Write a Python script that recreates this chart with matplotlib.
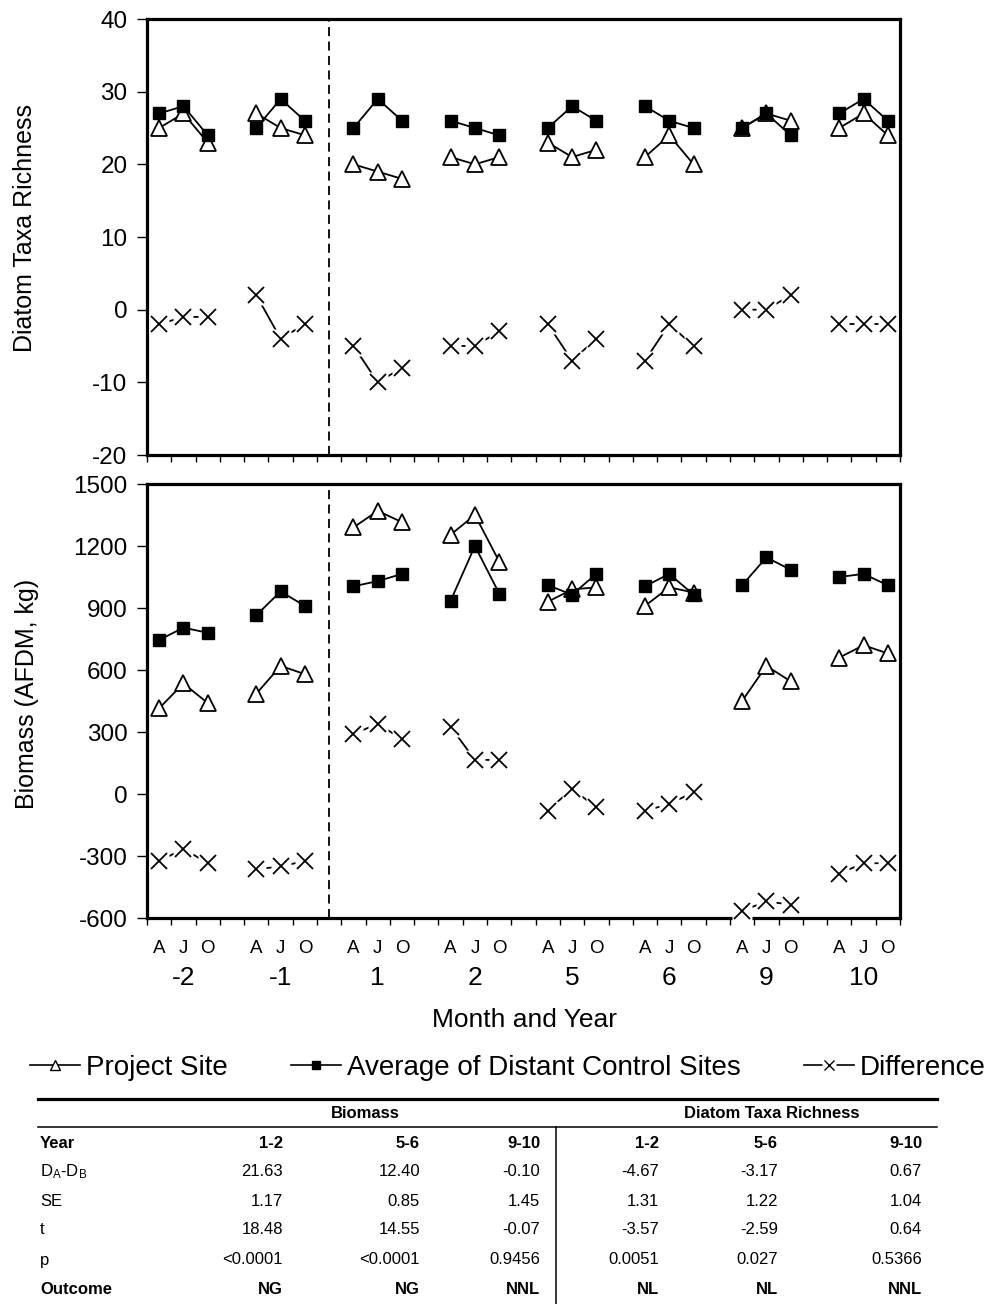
import numpy as np
import matplotlib.pyplot as plt
from matplotlib.lines import Line2D
from matplotlib.legend_handler import HandlerTuple

plt.rcParams['font.family'] = ['Liberation Sans', 'DejaVu Sans']
plt.rcParams['axes.unicode_minus'] = False
plt.rcParams['mathtext.fontset'] = 'custom'
plt.rcParams['mathtext.rm'] = 'Liberation Sans'
plt.rcParams['mathtext.it'] = 'Liberation Sans:italic'
plt.rcParams['mathtext.bf'] = 'Liberation Sans:bold'

# --- data -------------------------------------------------------------
years = ['-2', '-1', '1', '2', '5', '6', '9', '10']
months = ['A', 'J', 'O']

# diatom taxa richness (top panel)
proj_div = [25, 27, 23, 27, 25, 24, 20, 19, 18, 21, 20, 21,
            23, 21, 22, 21, 24, 20, 25, 27, 26, 25, 27, 24]
ctrl_div = [27, 28, 24, 25, 29, 26, 25, 29, 26, 26, 25, 24,
            25, 28, 26, 28, 26, 25, 25, 27, 24, 27, 29, 26]
diff_div = [-2, -1, -1, 2, -4, -2, -5, -10, -8, -5, -5, -3,
            -2, -7, -4, -7, -2, -5, 0, 0, 2, -2, -2, -2]

# biomass (bottom panel)
proj_bio = [415, 535, 440, 485, 620, 580, 1290, 1370, 1315, 1255, 1350, 1125,
            930, 990, 1000, 910, 1000, 975, 450, 620, 545, 660, 720, 680]
ctrl_bio = [745, 805, 780, 865, 980, 910, 1005, 1030, 1065, 935, 1200, 970,
            1010, 965, 1065, 1005, 1065, 965, 1010, 1145, 1085, 1050, 1065, 1010]
diff_bio = [-325, -265, -335, -365, -350, -325, 290, 340, 265, 325, 165, 165,
            -80, 25, -65, -80, -50, 10, -565, -520, -535, -385, -335, -335]

# table
stat_rows = ['Year', 'D$_\\mathrm{A}$-D$_\\mathrm{B}$', 'SE', 't', 'p', 'Outcome']
year_cols = ['1-2', '5-6', '9-10']
bio_stats = [['21.63', '12.40', '-0.10'],
             ['1.17', '0.85', '1.45'],
             ['18.48', '14.55', '-0.07'],
             ['<0.0001', '<0.0001', '0.9456'],
             ['NG', 'NG', 'NNL']]
div_stats = [['-4.67', '-3.17', '0.67'],
             ['1.31', '1.22', '1.04'],
             ['-3.57', '-2.59', '0.64'],
             ['0.0051', '0.027', '0.5366'],
             ['NL', 'NL', 'NNL']]

# --- figure -----------------------------------------------------------
W, H = 989, 1304
fig = plt.figure(figsize=(W / 100, H / 100), dpi=100)


def px_box(l, t, r, b):
    return [l / W, 1 - b / H, (r - l) / W, (b - t) / H]


ax1 = fig.add_axes(px_box(147, 19, 900, 455))
ax2 = fig.add_axes(px_box(147, 484, 900, 918))

ncat = 4 * len(years) - 1


def draw_panel(ax, proj, ctrl, diff):
    for g in range(len(years)):
        xs = [4 * g + m for m in range(len(months))]
        sl = slice(3 * g, 3 * g + 3)
        ax.plot(xs, proj[sl], '-', color='black', lw=1.3, marker='^', ms=11.5,
                mfc='white', mec='black', mew=1.3, zorder=4)
        ax.plot(xs, ctrl[sl], '-', color='black', lw=1.3, marker='s', ms=8.5,
                mfc='black', mec='black', zorder=5)
        ax.plot(xs, diff[sl], '-', color='black', lw=1.3, zorder=3)
        ax.plot(xs, diff[sl], ls='none', marker='s', ms=14, mfc='white',
                mec='none', zorder=3.1, clip_on=False)
        ax.plot(xs, diff[sl], ls='none', marker='x', ms=11.5, mec='black',
                mew=1.3, zorder=3.2, clip_on=False)
    # treatment start
    ax.axvline(7, color='black', ls=(0, (5, 3)), lw=1.3, zorder=2)
    ax.set_xlim(-0.5, ncat - 0.5)
    ax.set_xticks(np.arange(-0.5, ncat, 1))
    ax.set_xticklabels([])
    for s in ax.spines.values():
        s.set_linewidth(2.3)
    ax.tick_params(axis='x', which='major', direction='out', length=5, width=1)
    ax.tick_params(axis='y', direction='out', length=7, width=1,
                   labelsize=17.5, pad=7)


draw_panel(ax1, proj_div, ctrl_div, diff_div)
ax1.set_ylim(-20, 40)
ax1.set_yticks(range(-20, 41, 10))

draw_panel(ax2, proj_bio, ctrl_bio, diff_bio)
ax2.set_ylim(-600, 1500)
ax2.set_yticks(range(-600, 1501, 300))

# month labels under each point, year under the group
xcat = [4 * g + m for g in range(len(years)) for m in range(len(months))]
ax2.set_xticks(xcat, minor=True)
ax2.set_xticklabels(months * len(years), minor=True, fontsize=13.5)
ax2.tick_params(axis='x', which='minor', length=0, pad=16)
for g, yr in enumerate(years):
    ax2.text(4 * g + 1, -(978 - 918) / (918 - 484), yr, fontsize=19,
             ha='center', va='center', transform=ax2.get_xaxis_transform())

fig.text(525 / W, 1 - 1020 / H, 'Month and Year', fontsize=19,
         ha='center', va='center')
fig.text(25 / W, 1 - 228 / H, 'Diatom Taxa Richness', fontsize=18,
         rotation=90, ha='center', va='center')
fig.text(27 / W, 1 - 694 / H, 'Biomass (AFDM, kg)', fontsize=18,
         rotation=90, ha='center', va='center')

# legend
h_proj = Line2D([], [], color='black', lw=1.2, marker='^', ms=7,
                mfc='white', mec='black', mew=1)
h_ctrl = Line2D([], [], color='black', lw=1.2, marker='s', ms=5.5,
                mfc='black', mec='black')
h_dline = Line2D([], [], color='black', lw=1.2)
h_dbox = Line2D([], [], ls='none', marker='s', ms=10, mfc='white', mec='none')
h_dx = Line2D([], [], ls='none', marker='x', ms=7, mec='black', mew=1)
fig.legend([h_proj, h_ctrl, (h_dline, h_dbox, h_dx)],
           ['Project Site', 'Average of Distant Control Sites', 'Difference'],
           handler_map={tuple: HandlerTuple(ndivide=1, pad=0)},
           loc='center', bbox_to_anchor=(508 / W, 1 - 1068 / H), ncol=3,
           frameon=False, fontsize=20, handlelength=1.8, handletextpad=0.2,
           columnspacing=2.3, borderpad=0)

# statistics table
def fx(x):
    return x / W


def fy(y):
    return 1 - y / H


fig.add_artist(Line2D([fx(38), fx(937)], [fy(1099), fy(1099)], color='black', lw=2.3))
fig.add_artist(Line2D([fx(38), fx(937)], [fy(1127), fy(1127)], color='black', lw=1.1))
fig.add_artist(Line2D([fx(556), fx(556)], [fy(1127), fy(1304)], color='black', lw=1.1))

fig.text(fx(365), fy(1114), 'Biomass', fontsize=12, fontweight='bold',
         ha='center', va='center')
fig.text(fx(772), fy(1114), 'Diatom Taxa Richness', fontsize=12,
         fontweight='bold', ha='center', va='center')

row_y = [1143, 1172, 1201, 1230, 1260, 1289]
col_right = [283, 420, 540, 659, 778, 922]
for i, lab in enumerate(stat_rows):
    bold = lab in ('Year', 'Outcome')
    fw = 'bold' if bold else 'normal'
    fig.text(fx(40), fy(row_y[i]), lab, fontsize=12, fontweight=fw,
             ha='left', va='center')
    if i == 0:
        cells = year_cols + year_cols
    else:
        cells = bio_stats[i - 1] + div_stats[i - 1]
    for j, c in enumerate(cells):
        fig.text(fx(col_right[j]), fy(row_y[i]), c, fontsize=12,
                 fontweight=fw, ha='right', va='center')

fig.savefig('out.png', dpi=100)
